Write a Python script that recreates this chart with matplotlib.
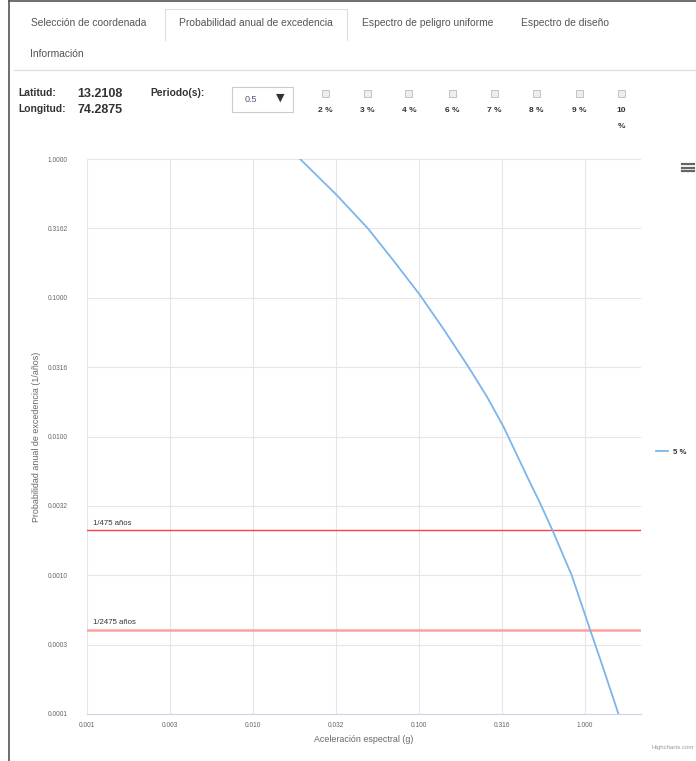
import matplotlib
matplotlib.use('Agg')
import matplotlib.pyplot as plt
from matplotlib.patches import Rectangle
from matplotlib.lines import Line2D

plt.rcParams['font.family'] = ['Liberation Sans', 'DejaVu Sans']

# curve (spectral acceleration g, annual exceedance probability)
accel = [0.0192, 0.0319, 0.0495, 0.0697, 0.101, 0.141, 0.198, 0.256, 0.322,
         0.46, 0.536, 0.638, 0.83, 1.072, 1.261, 1.588]
prob = [1.0, 0.55, 0.313, 0.187, 0.105, 0.059, 0.0318, 0.0194, 0.0118,
        0.0048, 0.0033, 0.00209, 0.001, 0.000404, 0.000229, 0.0001]

return_periods = [475, 2475]
rp_labels = ['1/475 años', '1/2475 años']

x_ticks = [0.001, 0.00316, 0.01, 0.0316, 0.1, 0.316, 1.0]
x_ticklabels = ['0.001', '0.003', '0.010', '0.032', '0.100', '0.316', '1.000']
y_ticks = [1.0, 0.3162, 0.1, 0.0316, 0.01, 0.00316, 0.001, 0.000316, 0.0001]
y_ticklabels = ['1.0000', '0.3162', '0.1000', '0.0316', '0.0100', '0.0032', '0.0010', '0.0003', '0.0001']

tabs = ['Selección de coordenada', 'Probabilidad anual de excedencia',
        'Espectro de peligro uniforme', 'Espectro de diseño']
percents = ['2 %', '3 %', '4 %', '6 %', '7 %', '8 %', '9 %', '10']

W, H = 696, 761
fig = plt.figure(figsize=(W / 100, H / 100), dpi=100)


def px(x, y):
    return x / W, 1 - y / H


def ftext(x, y, s, **kw):
    fig.text(*px(x, y), s, **kw)


# page frame
fig.add_artist(Line2D([9 / W, 9 / W], [0, 1], color='#555555', lw=1.2))
fig.add_artist(Line2D([9 / W, 1], [1 - 1 / H, 1 - 1 / H], color='#555555', lw=1.2))

# tabs
fig.add_artist(Line2D([165 / W, 165 / W, 347 / W, 347 / W],
                      [1 - 40 / H, 1 - 9 / H, 1 - 9 / H, 1 - 40 / H], color='#dddddd', lw=0.8))
tab_x = [89, 256, 428, 565]
for x, t in zip(tab_x, tabs):
    ftext(x, 23, t, fontsize=7.4, color='#555555', ha='center', va='center')
ftext(30, 54, 'Información', fontsize=7.4, color='#555555', va='center')
fig.add_artist(Line2D([14 / W, 1], [1 - 70 / H, 1 - 70 / H], color='#dddddd', lw=0.9))

# controls
ftext(18, 93, 'Latitud:', fontsize=7.4, weight='bold', color='#333333', va='center')
ftext(18, 109, 'Longitud:', fontsize=7.4, weight='bold', color='#333333', va='center')
ftext(77, 94, '13.2108', fontsize=9, weight='bold', color='#333333', va='center')
ftext(77, 110, '74.2875', fontsize=9, weight='bold', color='#333333', va='center')
ftext(150, 93, 'Periodo(s):', fontsize=7.4, weight='bold', color='#333333', va='center')
fig.add_artist(Rectangle(px(232, 112), 61 / W, 25 / H, facecolor='white',
                         edgecolor='#cccccc', lw=0.8))
ftext(245, 100, '0.5', fontsize=6.5, color='#555577', va='center')
ftext(280, 98, '▼', fontsize=8, color='#333333', ha='center', va='center',
      family='DejaVu Sans')
cb_x = [325, 367, 409, 452, 494, 536, 579, 621]
for x, p in zip(cb_x, percents):
    fig.add_artist(Rectangle(px(x - 3.5, 97), 7 / W, 7 / H, facecolor='#eeeeee',
                             edgecolor='#bbbbbb', lw=0.6))
    ftext(x, 110, p, fontsize=6, weight='bold', color='#333333', ha='center', va='center')
ftext(621, 126, '%', fontsize=6, weight='bold', color='#333333', ha='center', va='center')

# chart
ax = fig.add_axes([87 / W, 1 - 714 / H, (641 - 87) / W, (714 - 159) / H])
ax.set_xscale('log')
ax.set_yscale('log')
ax.set_xlim(0.001, 2.17)
ax.set_ylim(0.0001, 1.0)
ax.plot(accel, prob, color='#7cb5ec', lw=1.3, label='5 %', zorder=3)

ax.axhline(1 / return_periods[0], color='#ff4040', lw=1.0, zorder=2)
ax.axhline(1 / return_periods[1], color='#ff9f9f', lw=1.8, zorder=2)
for rp, lab in zip(return_periods, rp_labels):
    ax.annotate(lab, (0.001, 1 / rp), xytext=(4.5, 2.5), textcoords='offset points',
                fontsize=5.6, color='#333333', va='bottom')

ax.set_xticks(x_ticks)
ax.set_xticklabels(x_ticklabels)
ax.set_yticks(y_ticks)
ax.set_yticklabels(y_ticklabels)
ax.minorticks_off()
ax.tick_params(axis='both', length=0, labelsize=4.8, labelcolor='#666666')
ax.tick_params(axis='y', pad=14)
ax.tick_params(axis='x', pad=6)
ax.grid(True, color='#e6e6e6', lw=0.8)
ax.set_axisbelow(True)
for s in ['top', 'right', 'left']:
    ax.spines[s].set_visible(False)
ax.spines['bottom'].set_color('#ccd6eb')
ax.spines['bottom'].set_linewidth(0.8)
ax.set_xlabel('Aceleración espectral (g)', fontsize=6.4, color='#666666', labelpad=4)
ax.set_ylabel('Probabilidad anual de excedencia (1/años)', fontsize=6.4, color='#666666')
ax.yaxis.set_label_coords(-0.083, 0.5)

ax.legend(loc='center left', bbox_to_anchor=(1.015, 0.472), frameon=False,
          prop={'size': 5.6, 'weight': 'bold'}, handlelength=1.5, handletextpad=0.6,
          labelcolor='#333333')

# menu icon and credit
for yy in [164, 167.5, 171]:
    fig.add_artist(Line2D([682 / W, 694 / W], [1 - yy / H, 1 - yy / H], color='#666666', lw=1.6))
ftext(694, 748, 'Highcharts.com', fontsize=4.4, color='#999999', ha='right', va='center')

fig.savefig('out.png', dpi=100)
